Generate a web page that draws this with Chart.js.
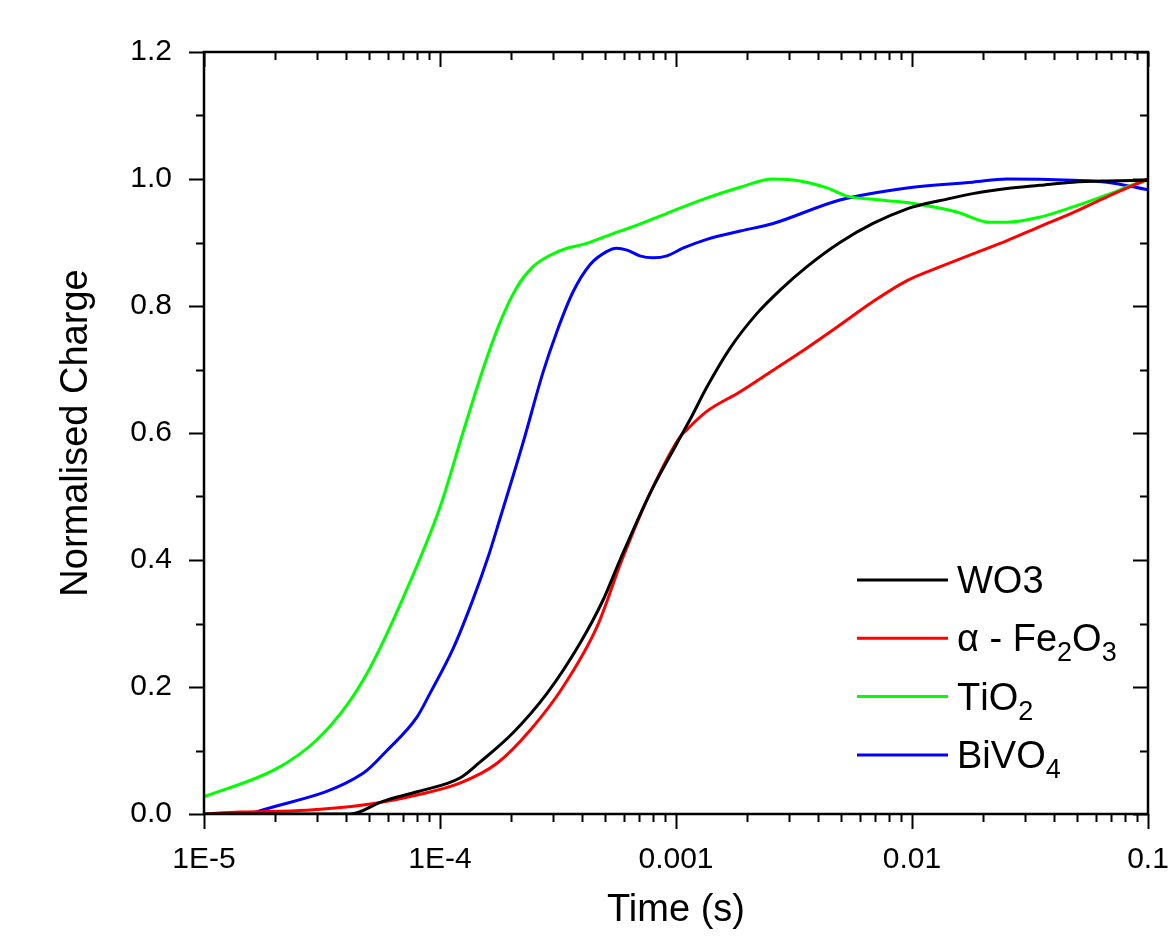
<!DOCTYPE html>
<html>
<head>
<meta charset="utf-8">
<title>Normalised Charge</title>
<script src="https://cdn.jsdelivr.net/npm/chart.js"></script>
<style>
  html, body { margin: 0; padding: 0; background: #fff; }
</style>
</head>
<body>
<canvas id="chart" width="1173" height="937"></canvas>
<script>
// time axis (s) and normalised charge, one pair of arrays per material
const wo3Time = [1e-5, 4.16e-5, 5.73e-5, 8.0e-5, 1.22e-4, 1.48e-4, 2.04e-4, 2.84e-4, 3.92e-4, 4.91e-4, 5.79e-4, 7.76e-4, 1.01e-3, 1.15e-3, 1.35e-3, 1.69e-3, 2.2e-3, 2.76e-3, 3.59e-3, 4.95e-3, 6.84e-3, 9.53e-3, 1.11e-2, 1.32e-2, 1.81e-2, 2.53e-2, 3.48e-2, 4.81e-2, 6.7e-2, 0.1];
const wo3Charge = [0, 0, 0.02, 0.035, 0.057, 0.082, 0.128, 0.19, 0.269, 0.337, 0.40, 0.505, 0.584, 0.622, 0.672, 0.733, 0.788, 0.825, 0.862, 0.9, 0.93, 0.953, 0.96, 0.966, 0.977, 0.985, 0.99, 0.995, 0.997, 0.998];

const fe2o3Time = [1e-5, 1.42e-5, 2.73e-5, 4.72e-5, 8.0e-5, 1.22e-4, 1.745e-4, 2.41e-4, 3.32e-4, 4.63e-4, 5.9e-4, 7.76e-4, 1.04e-3, 1.11e-3, 1.35e-3, 1.87e-3, 2.58e-3, 3.59e-3, 4.95e-3, 6.84e-3, 9.53e-3, 1.32e-2, 1.81e-2, 2.53e-2, 3.48e-2, 4.81e-2, 6.7e-2, 0.1];
const fe2o3Charge = [0, 0.003, 0.006, 0.014, 0.03, 0.049, 0.08, 0.132, 0.2, 0.295, 0.40, 0.505, 0.594, 0.605, 0.634, 0.665, 0.699, 0.734, 0.77, 0.807, 0.84, 0.862, 0.882, 0.903, 0.925, 0.947, 0.972, 1.0];

const tio2Time = [1e-5, 2.02e-5, 2.93e-5, 4.04e-5, 5.05e-5, 6.97e-5, 1e-4, 1.25e-4, 1.52e-4, 1.8e-4, 2.12e-4, 2.48e-4, 2.93e-4, 3.45e-4, 4.04e-4, 5.41e-4, 6.57e-4, 9.16e-4, 1.26e-3, 1.87e-3, 2.58e-3, 3.35e-3, 4.37e-3, 5.3e-3, 6.84e-3, 8.89e-3, 1.11e-2, 1.55e-2, 2.14e-2, 2.53e-2, 3.48e-2, 4.81e-2, 6.7e-2, 9.25e-2, 0.1];
const tio2Charge = [0.027, 0.071, 0.113, 0.172, 0.23, 0.34, 0.483, 0.60, 0.70, 0.775, 0.83, 0.862, 0.88, 0.891, 0.897, 0.914, 0.925, 0.946, 0.966, 0.987, 1.0, 0.997, 0.986, 0.973, 0.968, 0.964, 0.959, 0.948, 0.932, 0.932, 0.94, 0.956, 0.975, 0.995, 0.998];

const bivo4Time = [1.57e-5, 4.72e-5, 5.96e-5, 8.0e-5, 9.07e-5, 1.135e-4, 1.38e-4, 1.6e-4, 1.795e-4, 2.25e-4, 2.73e-4, 3.13e-4, 3.66e-4, 4.32e-4, 5.1e-4, 5.6e-4, 6.2e-4, 7.03e-4, 8.0e-4, 9.16e-4, 1.07e-3, 1.35e-3, 1.87e-3, 2.58e-3, 4.95e-3, 9.53e-3, 1.81e-2, 2.53e-2, 4.81e-2, 6.7e-2, 0.1];
const bivo4Charge = [0, 0.064, 0.10, 0.153, 0.19, 0.26, 0.338, 0.405, 0.465, 0.585, 0.695, 0.76, 0.822, 0.865, 0.886, 0.891, 0.888, 0.879, 0.876, 0.879, 0.891, 0.905, 0.918, 0.93, 0.967, 0.986, 0.995, 1.0, 0.998, 0.995, 0.983];

const seriesNames = ['WO3', '\u03b1 - Fe2O3', 'TiO2', 'BiVO4'];
// "_" marks the next character as a subscript in the legend
const legendText = ['WO3', '\u03b1 - Fe_2O_3', 'TiO_2', 'BiVO_4'];
const seriesColors = ['#000000', '#ff0000', '#00ff00', '#0000ff'];

const xTickValues = [1e-5, 1e-4, 1e-3, 1e-2, 1e-1];
const xTickLabels = ['1E-5', '1E-4', '0.001', '0.01', '0.1'];
const yTickValues = [0, 0.2, 0.4, 0.6, 0.8, 1.0, 1.2];

const FONT = "'Liberation Sans', Arial, sans-serif";
Chart.defaults.font.family = FONT;
Chart.defaults.color = '#000';

const toPoints = (xs, ys) => xs.map((x, i) => ({ x, y: ys[i] }));

// box around the plot with Origin-style ticks: out on bottom/left, in on top/right
const frameTicks = {
  id: 'frameTicks',
  afterDraw(chart) {
    const { ctx, chartArea: a } = chart;
    const xs = chart.scales.x, ys = chart.scales.y;
    ctx.save();
    ctx.strokeStyle = '#000';
    ctx.lineWidth = 2.5;
    ctx.strokeRect(a.left, a.top, a.right - a.left, a.bottom - a.top);
    ctx.lineWidth = 2;
    ctx.beginPath();
    for (let d = -5; d <= -1; d++) {
      for (let m = 1; m <= 9; m++) {
        const v = m * Math.pow(10, d);
        if (v > xs.max * 1.0001) break;
        const px = Math.round(xs.getPixelForValue(v)) + 0.5;
        const len = m === 1 ? 15 : 8;
        ctx.moveTo(px, a.bottom); ctx.lineTo(px, a.bottom + len);
        ctx.moveTo(px, a.top); ctx.lineTo(px, a.top + len);
      }
    }
    for (let i = 0; i <= 12; i++) {
      const py = Math.round(ys.getPixelForValue(i / 10)) + 0.5;
      const len = i % 2 === 0 ? 15 : 8;
      ctx.moveTo(a.left - len, py); ctx.lineTo(a.left, py);
      ctx.moveTo(a.right, py); ctx.lineTo(a.right - len, py);
    }
    ctx.stroke();
    ctx.restore();
  }
};

// legend in the lower right, with subscripts
const subLegend = {
  id: 'subLegend',
  afterDraw(chart) {
    const { ctx, chartArea: a } = chart;
    const x0 = a.right - 291, x1 = a.right - 200, tx = a.right - 191;
    ctx.save();
    chart.data.datasets.forEach((ds, i) => {
      const y = a.bottom - 234 + i * 58.3;
      ctx.strokeStyle = ds.borderColor;
      ctx.lineWidth = 3;
      ctx.beginPath();
      ctx.moveTo(x0, y); ctx.lineTo(x1, y);
      ctx.stroke();
      ctx.fillStyle = '#000';
      ctx.textBaseline = 'alphabetic';
      let x = tx;
      const txt = legendText[i];
      for (let k = 0; k < txt.length; k++) {
        let ch = txt[k], sub = false;
        if (ch === '_') { ch = txt[++k]; sub = true; }
        ctx.font = (sub ? '27px ' : '38px ') + FONT;
        ctx.fillText(ch, x, y + 13 + (sub ? 10 : 0));
        x += ctx.measureText(ch).width;
      }
    });
    ctx.restore();
  }
};

const ctx = document.getElementById('chart').getContext('2d');
new Chart(ctx, {
  type: 'line',
  data: {
    datasets: [
      [wo3Time, wo3Charge], [fe2o3Time, fe2o3Charge], [tio2Time, tio2Charge], [bivo4Time, bivo4Charge]
    ].map(([t, c], i) => ({
      label: seriesNames[i],
      data: toPoints(t, c),
      borderColor: seriesColors[i],
      borderWidth: 3,
      pointRadius: 0,
      fill: false,
      cubicInterpolationMode: 'monotone'
    }))
  },
  options: {
    responsive: false,
    animation: false,
    devicePixelRatio: 1,
    layout: { padding: { top: 52, right: 25, left: 0, bottom: 0 } },
    plugins: { legend: { display: false }, tooltip: { enabled: false } },
    scales: {
      x: {
        type: 'logarithmic',
        min: 1e-5,
        max: 0.1,
        afterBuildTicks: (s) => { s.ticks = xTickValues.map((v) => ({ value: v })); },
        afterFit: (s) => {
          s.height = 123;
          // let the end labels hang over the frame instead of shrinking the plot
          s.paddingLeft = 0;
          s.paddingRight = 0;
        },
        grid: { display: false },
        border: { display: false },
        ticks: {
          autoSkip: false,
          maxRotation: 0,
          padding: 20,
          font: { size: 30 },
          callback: (v) => {
            const i = xTickValues.findIndex((t) => Math.abs(Math.log10(t) - Math.log10(v)) < 1e-6);
            return i >= 0 ? xTickLabels[i] : '';
          }
        },
        title: { display: true, text: 'Time (s)', font: { size: 38 }, padding: { top: 0, bottom: 4 } }
      },
      y: {
        min: 0,
        max: 1.2,
        afterBuildTicks: (s) => { s.ticks = yTickValues.map((v) => ({ value: v })); },
        afterFit: (s) => {
          s.width = 204;
          s.paddingTop = 0;
          s.paddingBottom = 0;
        },
        grid: { display: false },
        border: { display: false },
        ticks: {
          padding: 24,
          font: { size: 30 },
          callback: (v) => Number(v).toFixed(1)
        },
        title: { display: true, text: 'Normalised Charge', font: { size: 38 }, padding: { top: 54, bottom: 0 } }
      }
    }
  },
  plugins: [frameTicks, subLegend]
});
</script>
</body>
</html>
